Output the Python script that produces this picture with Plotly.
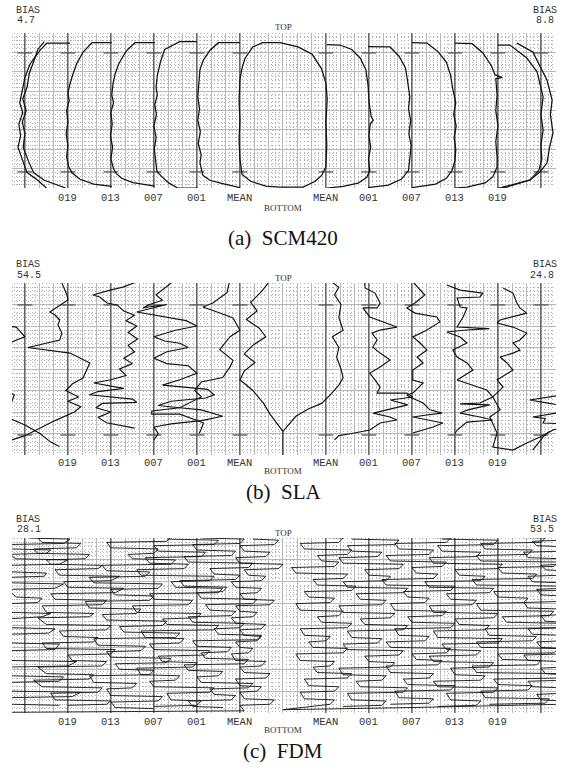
import plotly.graph_objects as go

# ---------------- data (x in column units, depth 0=TOP .. 8=BOTTOM) ----------------
LEFT_LABELS = ["019", "013", "007", "001", "MEAN"]
RIGHT_LABELS = ["MEAN", "001", "007", "013", "019"]
LEFT_COLUMNS = [1, 2, 3, 4, 5]
RIGHT_COLUMNS = [7, 8, 9, 10, 11]
BASELINES = [0, 1, 2, 3, 4, 5, 7, 8, 9, 10, 11, 12]
MARK_DEPTHS = [[1.03, 7.17], [1.02, 7.07], []]
BIAS_LEFT = ["4.7", "54.5", "28.1"]
BIAS_RIGHT = ["8.8", "24.8", "53.5"]
CAPTIONS = ["(a)  SCM420", "(b)  SLA", "(c)  FDM"]

# ---- (a) SCM420 ----
scm_edge_a = [(1.05,0.52),(0.51,0.52),(0.35,0.9),(0.12,1.6),(0.0,2.3),(-0.07,3.0),(-0.12,3.6),(-0.05,4.1),
              (-0.14,4.7),(-0.1,5.3),(-0.16,5.9),(-0.05,6.6),(0.05,7.2),(0.3,7.6),(0.5,8.0)]
scm_edge_b = [(0.45,0.45),(0.3,0.85),(0.2,1.5),(0.1,2.1),(0.05,2.8),(-0.05,3.4),(0.03,4.0),(-0.06,4.6),
              (0.0,5.2),(-0.04,5.9),(0.08,6.6),(0.2,7.2),(0.45,7.6),(0.75,7.85),(0.95,8.0)]
scm_019 = [(2.02,0.5),(1.56,0.5),(1.35,1.0),(1.2,1.6),(1.12,2.1),(1.05,2.6),(1.0,3.1),(1.03,3.5),(0.97,4.0),
           (1.0,4.6),(0.96,5.2),(1.0,5.8),(0.97,6.4),(1.02,6.9),(1.09,7.2),(1.28,7.55),(1.6,7.8),(2.02,7.92)]
scm_013 = [(3.02,0.5),(2.56,0.5),(2.35,0.95),(2.18,1.6),(2.1,2.1),(2.05,2.6),(2.02,3.2),(2.06,3.6),(2.0,4.1),
           (2.03,4.7),(1.99,5.3),(2.04,5.9),(2.0,6.5),(2.06,7.0),(2.12,7.25),(2.25,7.5),(2.51,7.72),(3.02,7.9)]
scm_007 = [(4.0,0.45),(3.6,0.45),(3.25,0.85),(3.15,1.5),(3.08,2.2),(3.05,2.8),(3.08,3.2),(3.02,3.7),(3.06,4.2),
           (3.0,4.8),(3.05,5.4),(3.01,6.0),(3.04,6.6),(3.07,7.15),(3.2,7.45),(3.35,7.75),(3.55,8.0),(4.02,8.0)]
scm_001 = [(5.0,0.5),(4.5,0.5),(4.3,0.9),(4.15,1.4),(4.07,1.9),(4.05,2.6),(4.02,3.3),(4.06,3.9),(4.02,4.5),
           (4.08,5.1),(4.03,5.7),(4.1,6.3),(4.07,6.7),(4.14,7.35),(4.3,7.6),(4.55,7.75),(5.0,7.98)]
scm_mean = [(5.93,0.5),(5.53,0.5),(5.3,0.72),(5.12,1.3),(5.05,1.8),(5.0,2.4),(4.98,3.5),(5.0,4.5),(4.98,5.5),
            (5.0,6.5),(5.05,7.3),(5.25,7.65),(5.6,7.9),(5.93,7.95),(6.47,7.95),(6.75,7.65),(6.9,7.35),(7.0,6.9),
            (7.02,5.8),(7.0,4.6),(7.03,3.4),(7.0,2.6),(6.9,1.85),(6.68,1.1),(6.35,0.72),(6.1,0.6),(5.93,0.5)]
scm_r001 = [(7.02,0.6),(7.33,0.62),(7.6,0.85),(7.8,1.3),(7.93,1.9),(7.98,2.7),(8.0,3.5),(8.05,4.3),(8.1,4.5),
            (8.03,4.7),(8.0,5.3),(8.04,5.9),(7.99,6.5),(8.02,7.1),(7.95,7.45),(7.75,7.75),(7.4,7.92),(7.02,8.0)]
scm_r007 = [(7.98,0.7),(8.49,0.72),(8.7,1.2),(8.85,1.8),(8.9,2.5),(8.95,3.3),(8.92,3.9),(8.97,4.5),(8.93,5.2),
            (8.98,5.8),(8.95,6.5),(8.92,7.1),(8.75,7.55),(8.45,7.85),(7.98,7.98)]
scm_r013 = [(9.0,0.5),(9.35,0.52),(9.6,0.95),(9.8,1.5),(9.9,2.2),(9.95,2.9),(10.02,3.6),(9.97,4.2),(10.03,4.8),
            (9.98,5.4),(10.02,6.0),(10.0,6.6),(9.93,7.1),(9.8,7.5),(9.55,7.8),(9.0,7.98)]
scm_r019 = [(10.0,0.52),(10.4,0.55),(10.65,1.03),(10.85,1.7),(10.93,2.15),(11.1,2.3),(10.95,2.35),(10.98,3.2),
            (10.95,4.0),(11.0,4.8),(10.95,5.6),(10.98,6.4),(10.98,6.92),(10.88,7.43),(10.7,7.74),(10.28,7.95),(10.0,8.0)]
scm_edge_r_a = [(11.0,0.62),(11.28,0.62),(11.67,1.29),(11.91,2.0),(12.05,3.3),(12.0,4.2),(12.05,5.0),(12.0,5.8),
                (12.02,6.5),(11.95,7.1),(11.74,7.59),(11.21,7.95),(11.0,8.0)]
scm_edge_r_b = [(11.44,0.52),(11.81,0.98),(12.14,2.43),(12.26,3.46),(12.22,4.2),(12.28,5.16),(12.2,5.9),
                (12.14,6.71),(11.98,7.17),(11.74,7.59),(11.3,7.85),(11.1,7.95)]

# ---- (b) SLA ----
sla_edge_1 = [(-0.45,2.0),(-0.2,2.05),(0.0,2.5),(-0.25,2.7),(-0.5,2.9)]
sla_edge_2 = [(-0.45,5.0),(-0.25,5.2),(-0.3,5.5),(-0.5,5.7)]
sla_edge_3 = [(-0.35,6.3),(0.0,6.6),(0.35,7.0),(0.6,7.4),(0.8,7.6)]
sla_019 = [(0.86,0.0),(0.98,0.56),(1.0,0.79),(0.74,1.16),(0.58,1.35),(0.7,1.49),(0.81,1.72),(0.77,1.95),
           (0.86,2.33),(0.81,2.65),(0.12,2.98),(0.07,3.0),(1.05,3.26),(1.51,3.72),(1.35,4.42),(1.1,4.7),
           (0.95,5.0),(1.25,5.3),(1.0,5.5),(1.3,5.75),(1.15,6.0),(0.7,6.4),(0.3,6.8),(0.0,7.1),(-0.3,7.3)]
sla_013 = [(2.6,-0.05),(2.28,0.19),(1.98,0.33),(1.58,0.56),(1.74,0.65),(1.91,0.93),(2.14,1.02),(2.3,1.3),
           (2.55,1.5),(2.35,1.75),(2.6,2.0),(2.4,2.3),(2.62,2.6),(2.4,2.9),(2.55,3.2),(2.3,3.5),(2.5,3.75),
           (2.2,4.0),(2.35,4.3),(2.0,4.5),(1.6,4.65),(2.0,4.8),(2.3,4.9),(1.7,5.05),(1.5,5.2),(2.5,5.4),
           (2.6,5.55),(1.8,5.6),(1.65,5.8),(2.0,6.0),(1.7,6.25),(1.9,6.5),(2.3,6.65),(2.55,6.75)]
sla_007 = [(3.4,0.0),(3.25,0.25),(3.05,0.55),(3.2,0.8),(2.9,1.0),(2.75,1.15),(3.1,1.05),(3.3,1.0),(2.6,1.35),
           (3.2,1.55),(3.75,1.75),(4.0,2.0),(3.5,2.2),(3.0,2.5),(3.25,2.7),(3.6,2.8),(3.8,3.0),(3.3,3.2),
           (3.0,3.5),(3.3,3.75),(3.8,3.85),(4.0,4.2),(3.6,4.5),(3.2,4.75),(3.7,4.85),(4.25,4.95),(4.4,5.2),
           (4.2,5.35),(3.4,5.5),(3.1,5.7),(3.6,5.8),(4.1,5.9),(4.6,6.2),(4.1,6.4),(3.4,6.55),(3.0,6.7),
           (3.1,7.0),(3.0,7.3)]
sla_001 = [(4.77,-0.2),(4.7,0.45),(4.37,0.93),(4.14,1.12),(4.47,1.35),(4.84,1.63),(5.0,2.2),(4.77,2.5),
           (4.53,3.1),(4.84,3.6),(4.77,3.9),(4.6,4.4),(4.1,4.6),(3.95,5.0),(4.1,5.3),(3.6,5.8),(2.95,5.95),
           (2.95,6.1),(3.6,6.1),(4.0,6.4),(4.15,6.5),(4.1,6.8),(4.05,7.0)]
sla_mean_l = [(5.7,-0.1),(5.5,0.4),(5.25,0.9),(5.4,1.3),(5.15,1.7),(5.45,2.1),(5.6,2.5),(5.3,2.9),(5.1,3.3),
              (5.35,3.7),(5.1,4.1),(5.0,4.5),(5.3,5.0),(5.55,5.6),(5.7,6.1),(5.85,6.5),(6.0,6.9)]
sla_mean_r = [(7.1,-0.1),(7.3,0.2),(7.2,0.55),(7.35,1.0),(7.3,1.6),(7.4,2.2),(7.15,2.5),(7.3,3.0),(7.25,3.45),
              (7.35,4.0),(7.4,4.4),(7.3,4.75),(7.1,5.2),(6.9,5.6),(6.6,5.85),(6.3,6.2),(6.0,6.9),(6.0,8.0)]
sla_r001 = [(7.9,-0.1),(7.91,0.23),(8.14,0.47),(8.26,0.93),(8.19,1.16),(7.86,1.16),(8.02,1.58),(8.33,1.81),
            (8.65,2.05),(8.26,2.19),(8.07,2.33),(8.19,2.65),(8.09,2.98),(8.26,3.26),(8.49,3.58),(8.26,3.91),
            (8.02,4.19),(8.14,4.51),(8.26,4.84),(8.19,5.12),(8.88,5.12),(9.02,5.3),(8.5,5.44),(8.9,5.67),
            (8.1,6.05),(8.49,6.23),(8.65,6.37),(8.26,6.51),(8.02,6.84),(7.6,7.0),(7.3,7.1),(7.2,7.3)]
sla_r007 = [(9.0,-0.1),(9.14,0.23),(9.3,0.56),(9.07,0.93),(8.88,1.16),(9.07,1.4),(9.58,1.58),(9.65,1.81),
            (9.35,2.19),(9.02,2.51),(9.19,2.79),(9.35,3.12),(9.12,3.44),(9.26,3.72),(9.02,4.05),(9.02,4.51),
            (9.26,4.65),(9.02,5.12),(8.88,5.21),(8.95,5.3),(9.26,5.58),(9.42,5.9),(9.7,6.05),(9.3,6.15),
            (9.02,6.23),(9.72,6.51),(9.49,6.7),(9.02,6.98)]
sla_r013 = [(9.81,0.09),(10.12,0.33),(10.65,0.47),(10.58,0.65),(10.05,0.7),(10.12,1.12),(10.28,1.16),
            (10.19,1.58),(10.05,2.05),(10.74,2.09),(10.8,2.12),(10.2,2.2),(9.81,2.28),(10.12,2.51),(10.28,2.79),
            (9.95,3.12),(10.05,3.44),(10.28,3.72),(10.42,4.05),(10.05,4.51),(10.74,4.98),(10.88,5.3),
            (10.58,5.58),(10.12,5.62),(10.81,5.67),(10.3,5.9),(10.12,6.05),(10.58,6.23),(10.88,6.37),
            (10.28,6.47),(10.05,6.84),(10.0,7.0)]
sla_r019 = [(11.12,0.23),(11.35,0.47),(11.44,0.93),(11.51,1.16),(11.67,1.4),(11.35,1.58),(11.05,1.72),
            (10.98,1.86),(11.35,2.05),(11.67,2.33),(11.51,2.65),(11.35,2.79),(11.51,3.12),(11.35,3.26),
            (11.05,3.44),(11.21,3.72),(11.35,4.05),(10.98,4.51),(11.12,4.84),(10.88,5.3),(11.05,5.9),
            (10.81,6.23),(10.98,6.98),(10.88,7.63),(11.35,7.77),(11.67,7.44),(11.98,7.16),(12.28,6.84),(12.5,6.7)]
sla_edge_r1 = [(12.5,5.2),(12.14,5.3),(11.74,5.44),(12.2,5.6),(12.5,5.7)]
sla_edge_r2 = [(12.5,6.0),(11.81,6.23),(12.1,6.3),(12.05,6.51),(12.5,6.55)]
sla_edge_r3 = [(11.81,7.77),(12.05,7.16),(12.2,6.9)]

# ---- (c) FDM ----
fdm_edge = [(0.0,-0.3),(0.1,0.0),(1.05,0.05),(0.9,0.25),(-0.4,0.3),(-0.3,0.5),(0.6,0.55),(0.5,0.7),(-0.4,0.75),
            (-0.2,0.95),(1.0,1.0),(0.8,1.2),(-0.4,1.25),(-0.3,1.55),(0.5,1.6),(0.45,1.75),(-0.4,1.8),(-0.3,2.05),
            (0.9,2.1),(0.7,2.3),(-0.4,2.35),(-0.2,2.7),(0.4,2.75),(0.3,2.95),(-0.4,3.0),(-0.3,3.4),(0.6,3.45),
            (0.4,3.6),(-0.4,3.7),(-0.35,4.1),(0.7,4.15),(0.55,4.35),(-0.4,4.4),(-0.3,4.8),(0.8,4.85),(0.7,5.1),
            (-0.4,5.15),(-0.3,5.6),(1.2,5.65),(1.0,5.85),(-0.4,5.9),(-0.3,6.3),(0.9,6.35),(0.8,6.55),(-0.4,6.6),
            (-0.3,7.0),(1.3,7.05),(1.1,7.25),(-0.4,7.3),(-0.3,7.6),(0.8,7.65)]
fdm_019 = [(1.6,-0.05),(0.3,0.0),(0.4,0.2),(1.3,0.25),(1.2,0.45),(0.2,0.5),(0.3,0.7),(1.5,0.75),(1.4,0.95),
           (0.5,1.0),(0.6,1.2),(1.8,1.25),(1.7,1.4),(0.7,1.45),(0.8,1.7),(2.2,1.75),(2.0,1.95),(0.9,2.0),
           (1.0,2.25),(2.3,2.3),(2.1,2.5),(0.6,2.55),(0.7,2.8),(1.9,2.85),(1.8,3.05),(0.4,3.1),(0.5,3.4),
           (1.6,3.45),(1.5,3.6),(0.3,3.65),(0.5,3.95),(2.0,4.0),(1.9,4.2),(0.8,4.25),(0.9,4.5),(1.7,4.55),
           (1.6,4.75),(0.4,4.8),(0.5,5.05),(2.1,5.1),(2.0,5.3),(1.0,5.35),(1.1,5.6),(1.9,5.65),(1.8,5.85),
           (0.3,5.9),(0.5,6.2),(1.6,6.25),(1.5,6.45),(0.2,6.5),(0.4,6.8),(1.8,6.85),(1.7,7.05),(0.6,7.1),
           (0.7,7.4),(2.0,7.45),(1.9,7.6),(1.0,7.65)]
fdm_013 = [(2.2,-0.1),(3.4,-0.05),(3.3,0.15),(1.9,0.2),(2.0,0.45),(3.1,0.5),(3.0,0.7),(2.4,0.75),(2.5,0.95),
           (3.5,1.0),(3.4,1.2),(1.8,1.25),(1.9,1.5),(2.9,1.55),(2.8,1.75),(1.5,1.8),(1.6,2.05),(3.2,2.1),
           (3.1,2.3),(2.0,2.35),(2.1,2.6),(3.0,2.65),(2.9,2.85),(1.4,2.9),(1.5,3.2),(2.7,3.25),(2.6,3.45),
           (1.8,3.5),(1.9,3.75),(3.3,3.8),(3.2,4.0),(2.2,4.05),(2.3,4.3),(3.6,4.35),(3.5,4.55),(1.6,4.6),
           (1.7,4.9),(2.8,4.95),(2.7,5.15),(1.9,5.2),(2.0,5.45),(3.4,5.5),(3.3,5.7),(2.1,5.75),(2.2,6.0),
           (3.0,6.05),(2.9,6.25),(1.5,6.3),(1.6,6.6),(2.6,6.65),(2.5,6.85),(1.9,6.9),(2.0,7.2),(3.2,7.25),
           (3.1,7.45),(2.0,7.5),(2.1,7.75),(3.0,7.8)]
fdm_007 = [(3.3,0.05),(4.5,0.1),(4.4,0.3),(3.0,0.35),(3.1,0.6),(4.2,0.65),(4.1,0.85),(2.8,0.9),(2.9,1.15),
           (3.8,1.2),(3.7,1.4),(2.6,1.45),(2.7,1.7),(4.4,1.75),(4.3,1.95),(3.4,2.0),(3.5,2.25),(4.6,2.3),
           (4.5,2.5),(2.9,2.55),(3.0,2.8),(3.9,2.85),(3.8,3.05),(2.5,3.1),(2.6,3.4),(4.1,3.45),(4.0,3.65),
           (3.2,3.7),(3.3,3.95),(4.5,4.0),(4.4,4.2),(2.7,4.25),(2.8,4.55),(3.7,4.6),(3.6,4.8),(2.9,4.85),
           (3.0,5.1),(4.3,5.15),(4.2,5.35),(3.1,5.4),(3.2,5.65),(4.0,5.7),(3.9,5.9),(2.6,5.95),(2.7,6.25),
           (3.6,6.3),(3.5,6.5),(2.9,6.55),(3.0,6.8),(4.4,6.85),(4.3,7.05),(3.3,7.1),(3.4,7.4),(4.1,7.45),
           (4.0,7.65),(3.0,7.7)]
fdm_001 = [(4.1,0.0),(5.1,0.05),(5.0,0.25),(3.9,0.3),(4.0,0.55),(4.9,0.6),(4.8,0.8),(3.7,0.85),(3.8,1.1),
           (5.3,1.15),(5.2,1.35),(4.3,1.4),(4.4,1.65),(5.0,1.7),(4.9,1.9),(3.6,1.95),(3.7,2.2),(4.7,2.25),
           (4.6,2.45),(4.0,2.5),(4.1,2.75),(5.4,2.8),(5.3,3.0),(4.2,3.05),(4.3,3.3),(4.9,3.35),(4.8,3.55),
           (3.8,3.6),(3.9,3.85),(5.1,3.9),(5.0,4.1),(4.4,4.15),(4.5,4.4),(5.5,4.45),(5.4,4.65),(3.9,4.7),
           (4.0,4.95),(4.8,5.0),(4.7,5.2),(4.1,5.25),(4.2,5.5),(5.2,5.55),(5.1,5.75),(3.7,5.8),(3.8,6.05),
           (4.6,6.1),(4.5,6.3),(4.0,6.35),(4.1,6.6),(5.3,6.65),(5.2,6.85),(4.3,6.9),(4.4,7.15),(4.9,7.2),
           (4.8,7.4),(3.8,7.45),(3.9,7.7),(4.6,7.75)]
fdm_mean_l = [(5.3,0.05),(5.9,0.1),(5.8,0.3),(5.0,0.35),(5.1,0.6),(5.7,0.65),(5.6,0.85),(4.9,0.9),(5.0,1.15),
              (6.0,1.2),(5.9,1.4),(5.1,1.45),(5.2,1.7),(5.6,1.75),(5.5,1.95),(4.8,2.0),(4.9,2.25),(5.5,2.3),
              (5.4,2.5),(5.0,2.55),(5.1,2.8),(5.8,2.85),(5.7,3.05),(4.9,3.1),(5.0,3.35),(5.4,3.4),(5.3,3.6),
              (4.8,3.65),(4.9,3.9),(5.6,3.95),(5.5,4.15),(5.0,4.2),(5.1,4.45),(5.5,4.5),(5.4,4.7),(4.9,4.75),
              (5.0,5.0),(5.3,5.05),(5.2,5.25),(4.8,5.3),(4.9,5.6),(5.6,5.65),(5.5,5.85),(5.0,5.9),(5.1,6.15),
              (5.7,6.2),(5.6,6.4),(4.9,6.45),(5.0,6.75),(5.5,6.8),(5.4,7.0),(5.0,7.05),(5.1,7.35),(5.8,7.4),
              (5.7,7.6),(5.0,7.65),(5.1,7.9),(-0.4,7.97)]
fdm_mean_r = [(6.5,-0.05),(7.4,0.0),(7.3,0.2),(6.4,0.25),(6.5,0.5),(7.6,0.55),(7.5,0.75),(6.8,0.8),(6.9,1.05),
              (7.3,1.1),(7.2,1.3),(6.2,1.35),(6.3,1.6),(7.5,1.65),(7.4,1.85),(6.7,1.9),(6.8,2.15),(7.7,2.2),
              (7.6,2.4),(6.5,2.45),(6.6,2.7),(7.2,2.75),(7.1,2.95),(6.3,3.0),(6.4,3.3),(7.4,3.35),(7.3,3.55),
              (6.8,3.6),(6.9,3.85),(7.6,3.9),(7.5,4.1),(6.4,4.15),(6.5,4.45),(7.1,4.5),(7.0,4.7),(6.6,4.75),
              (6.7,5.0),(7.5,5.05),(7.4,5.25),(6.3,5.3),(6.4,5.6),(7.2,5.65),(7.1,5.85),(6.7,5.9),(6.8,6.15),
              (7.6,6.2),(7.5,6.4),(6.5,6.45),(6.6,6.75),(7.3,6.8),(7.2,7.0),(6.4,7.05),(6.5,7.35),(7.2,7.4),
              (7.1,7.6),(6.0,7.85),(9.0,7.75),(12.5,7.6)]
fdm_r001 = [(7.6,0.05),(8.7,0.1),(8.6,0.3),(7.5,0.35),(7.6,0.6),(8.3,0.65),(8.2,0.85),(7.3,0.9),(7.4,1.15),
            (8.8,1.2),(8.7,1.4),(7.9,1.45),(8.0,1.7),(8.5,1.75),(8.4,1.95),(7.4,2.0),(7.5,2.25),(8.9,2.3),
            (8.8,2.5),(7.7,2.55),(7.8,2.8),(8.4,2.85),(8.3,3.05),(7.3,3.1),(7.4,3.4),(8.6,3.45),(8.5,3.65),
            (7.8,3.7),(7.9,3.95),(8.9,4.0),(8.8,4.2),(7.5,4.25),(7.6,4.55),(8.3,4.6),(8.2,4.8),(7.4,4.85),
            (7.5,5.1),(8.8,5.15),(8.7,5.35),(7.9,5.4),(8.0,5.65),(8.6,5.7),(8.5,5.9),(7.3,5.95),(7.4,6.25),
            (8.4,6.3),(8.3,6.5),(7.7,6.55),(7.8,6.8),(8.9,6.85),(8.8,7.05),(7.5,7.1),(7.6,7.4),(8.4,7.45),
            (8.3,7.65),(7.4,7.7)]
fdm_r007 = [(8.9,-0.05),(9.9,0.0),(9.8,0.2),(8.6,0.25),(8.7,0.5),(9.5,0.55),(9.4,0.75),(8.4,0.8),(8.5,1.05),
            (9.8,1.1),(9.7,1.3),(9.0,1.35),(9.1,1.6),(9.6,1.65),(9.5,1.85),(8.3,1.9),(8.4,2.15),(10.0,2.2),
            (9.9,2.4),(8.8,2.45),(8.9,2.7),(9.4,2.75),(9.3,2.95),(8.5,3.0),(8.6,3.3),(9.8,3.35),(9.7,3.55),
            (8.9,3.6),(9.0,3.85),(10.0,3.9),(9.9,4.1),(8.6,4.15),(8.7,4.45),(9.4,4.5),(9.3,4.7),(8.4,4.75),
            (8.5,5.0),(9.9,5.05),(9.8,5.25),(9.0,5.3),(9.1,5.55),(9.7,5.6),(9.6,5.8),(8.4,5.85),(8.5,6.15),
            (9.5,6.2),(9.4,6.4),(8.8,6.45),(8.9,6.7),(10.0,6.75),(9.9,6.95),(8.6,7.0),(8.7,7.3),(9.5,7.35),
            (9.4,7.55),(8.5,7.6)]
fdm_r013 = [(9.7,0.05),(11.0,0.1),(10.9,0.3),(9.6,0.35),(9.7,0.6),(10.6,0.65),(10.5,0.85),(9.4,0.9),(9.5,1.15),
            (11.1,1.2),(11.0,1.4),(10.0,1.45),(10.1,1.7),(10.7,1.75),(10.6,1.95),(9.3,2.0),(9.4,2.25),(10.9,2.3),
            (10.8,2.5),(9.8,2.55),(9.9,2.8),(10.5,2.85),(10.4,3.05),(9.4,3.1),(9.5,3.4),(11.0,3.45),(10.9,3.65),
            (10.0,3.7),(10.1,3.95),(10.8,4.0),(10.7,4.2),(9.5,4.25),(9.6,4.55),(11.1,4.6),(11.0,4.8),(9.7,4.85),
            (9.8,5.1),(10.6,5.15),(10.5,5.35),(9.4,5.4),(9.5,5.65),(10.9,5.7),(10.8,5.9),(9.9,5.95),(10.0,6.25),
            (10.7,6.3),(10.6,6.5),(9.5,6.55),(9.6,6.8),(11.0,6.85),(10.9,7.05),(9.8,7.1),(9.9,7.4),(10.6,7.45),
            (10.5,7.65),(9.6,7.7)]
fdm_r019 = [(10.8,-0.05),(12.1,0.0),(12.0,0.2),(10.6,0.25),(10.7,0.5),(11.8,0.55),(11.7,0.75),(10.5,0.8),
            (10.6,1.05),(12.4,1.1),(12.3,1.3),(11.0,1.35),(11.1,1.6),(11.9,1.65),(11.8,1.85),(10.4,1.9),
            (10.5,2.15),(12.5,2.2),(12.4,2.4),(10.9,2.45),(11.0,2.7),(11.7,2.75),(11.6,2.95),(10.5,3.0),
            (10.6,3.3),(12.3,3.35),(12.2,3.55),(11.1,3.6),(11.2,3.85),(12.5,3.9),(12.4,4.1),(10.7,4.15),
            (10.8,4.45),(11.9,4.5),(11.8,4.7),(10.5,4.75),(10.6,5.0),(12.4,5.05),(12.3,5.25),(11.0,5.3),
            (11.1,5.55),(12.0,5.6),(11.9,5.8),(10.4,5.85),(10.5,6.15),(12.5,6.2),(12.4,6.4),(10.9,6.45),
            (11.0,6.7),(11.8,6.75),(11.7,6.95),(10.6,7.0),(10.7,7.3),(12.2,7.35),(12.1,7.55),(10.8,7.6)]
fdm_edge_r = [(12.5,0.1),(11.8,0.15),(11.9,0.35),(12.5,0.4),(12.5,0.6),(11.6,0.65),(11.7,0.9),(12.5,0.95),
              (12.5,1.2),(12.0,1.25),(12.1,1.45),(12.5,1.5),(12.5,1.7),(11.7,1.75),(11.8,2.0),(12.5,2.05),
              (12.5,2.3),(11.9,2.35),(12.0,2.6),(12.5,2.65),(12.5,2.9),(11.6,2.95),(11.7,3.2),(12.5,3.25),
              (12.5,3.5),(12.0,3.55),(12.1,3.8),(12.5,3.85),(12.5,4.1),(11.7,4.15),(11.8,4.4),(12.5,4.45),
              (12.5,4.7),(11.9,4.75),(12.0,5.0),(12.5,5.05),(12.5,5.3),(11.6,5.35),(11.7,5.6),(12.5,5.65),
              (12.5,5.9),(12.0,5.95),(12.1,6.2),(12.5,6.25),(12.5,6.5),(11.7,6.55),(11.8,6.8),(12.5,6.85),
              (12.5,7.1),(11.9,7.15),(12.0,7.4),(12.5,7.45)]

PANEL_PROFILES = [
    [scm_edge_a, scm_edge_b, scm_019, scm_013, scm_007, scm_001, scm_mean, scm_r001, scm_r007,
     scm_r013, scm_r019, scm_edge_r_a, scm_edge_r_b],
    [sla_edge_1, sla_edge_2, sla_edge_3, sla_019, sla_013, sla_007, sla_001, sla_mean_l, sla_mean_r,
     sla_r001, sla_r007, sla_r013, sla_r019, sla_edge_r1, sla_edge_r2, sla_edge_r3],
    [fdm_edge, fdm_019, fdm_013, fdm_007, fdm_001, fdm_mean_l, fdm_mean_r, fdm_r001, fdm_r007,
     fdm_r013, fdm_r019, fdm_edge_r],
]

# ---------------- layout ----------------
W, H = 562, 770
def fx(px): return px / W
def fy(py): return 1 - py / H

PLOT_LEFT, PLOT_RIGHT = 12, 556
PANELS = [
    dict(top=33, bottom=188, bias=10, biasv=21, toplab=27, lab=198, bot=208, cap=238, lw=1.25),
    dict(top=283, bottom=455, bias=264, biasv=275, toplab=278, lab=463, bot=471, cap=492, lw=1.15),
    dict(top=538, bottom=713, bias=519, biasv=529, toplab=533, lab=722, bot=730, cap=751, lw=0.9),
]
XR = [-0.30, 12.35]
DEPTH = [8, 0]

fig = go.Figure()
MONO = "Liberation Mono, DejaVu Sans Mono, monospace"
SERIF = "Liberation Serif, DejaVu Serif, serif"
annotations = []

for i, p in enumerate(PANELS):
    xa = "x" if i == 0 else f"x{i+1}"
    ya = "y" if i == 0 else f"y{i+1}"
    xkey = "xaxis" if i == 0 else f"xaxis{i+1}"
    ykey = "yaxis" if i == 0 else f"yaxis{i+1}"
    fig.update_layout(**{
        xkey: dict(domain=[fx(PLOT_LEFT), fx(PLOT_RIGHT)], range=XR, anchor=ya,
                   showgrid=True, gridcolor="#b8b8b8", gridwidth=0.9, tick0=0, dtick=1/3,
                   minor=dict(showgrid=True, tick0=0, dtick=1/12, gridcolor="#b0b0b0",
                              griddash="1px,2.6px", gridwidth=0.8),
                   showticklabels=False, ticks="", zeroline=False, showline=False, fixedrange=True),
        ykey: dict(domain=[fy(p["bottom"]), fy(p["top"])], range=DEPTH, anchor=xa,
                   showgrid=True, gridcolor="#b8b8b8", gridwidth=0.9, tick0=0, dtick=1,
                   minor=dict(showgrid=True, tick0=0, dtick=0.2, gridcolor="#b0b0b0",
                              griddash="1px,2.6px", gridwidth=0.8),
                   showticklabels=False, ticks="", zeroline=False, showline=False, fixedrange=True),
    })
    bx, by = [], []
    for b in BASELINES:
        bx += [b, b, None]
        by += [DEPTH[1], DEPTH[0], None]
    fig.add_trace(go.Scatter(x=bx, y=by, xaxis=xa, yaxis=ya, mode="lines",
                             line=dict(color="#3a3a3a", width=1.1), hoverinfo="skip"))
    mx, my = [], []
    for d in MARK_DEPTHS[i]:
        for b in BASELINES:
            mx += [b - 0.17, b + 0.17, None]
            my += [d, d, None]
    if mx:
        fig.add_trace(go.Scatter(x=mx, y=my, xaxis=xa, yaxis=ya, mode="lines",
                                 line=dict(color="#555555", width=1.3), hoverinfo="skip"))
    for prof in PANEL_PROFILES[i]:
        fig.add_trace(go.Scatter(x=[q[0] for q in prof], y=[q[1] for q in prof], xaxis=xa, yaxis=ya,
                                 mode="lines", line=dict(color="#111111", width=p["lw"]),
                                 hoverinfo="skip"))
    for c, t in zip(LEFT_COLUMNS + RIGHT_COLUMNS, LEFT_LABELS + RIGHT_LABELS):
        annotations.append(dict(x=c, xref=xa, y=fy(p["lab"]), yref="paper", text=t, showarrow=False,
                                xanchor="center", yanchor="middle",
                                font=dict(family=MONO, size=10.5, color="#333333")))
    small = [
        dict(x=fx(15), y=fy(p["bias"]), text="BIAS", xanchor="left"),
        dict(x=fx(16), y=fy(p["biasv"]), text=BIAS_LEFT[i], xanchor="left"),
        dict(x=fx(558), y=fy(p["bias"]), text="BIAS", xanchor="right"),
        dict(x=fx(555), y=fy(p["biasv"]), text=BIAS_RIGHT[i], xanchor="right"),
    ]
    for a in small:
        a.update(xref="paper", yref="paper", showarrow=False, yanchor="middle", borderpad=0,
                 font=dict(family=MONO, size=10, color="#333333"))
    annotations += small
    annotations += [
        dict(x=fx(283), y=fy(p["toplab"]), text="TOP", xref="paper", yref="paper", showarrow=False,
             font=dict(family=SERIF, size=9, color="#333333"), yanchor="middle"),
        dict(x=fx(283), y=fy(p["bot"]), text="BOTTOM", xref="paper", yref="paper", showarrow=False,
             font=dict(family=SERIF, size=9, color="#333333"), yanchor="middle"),
        dict(x=fx(283), y=fy(p["cap"]), text=CAPTIONS[i], xref="paper", yref="paper", showarrow=False,
             font=dict(family=SERIF, size=21, color="#111111"), yanchor="middle"),
    ]

fig.update_layout(width=W, height=H, margin=dict(l=0, r=0, t=0, b=0), showlegend=False,
                  paper_bgcolor="white", plot_bgcolor="white", annotations=annotations)
# the page's default 8px body margin would push the 562x770 figure past the window edge
fig.write_html("out.html", config={"displayModeBar": False},
               post_script="document.body.style.margin='0px';")
